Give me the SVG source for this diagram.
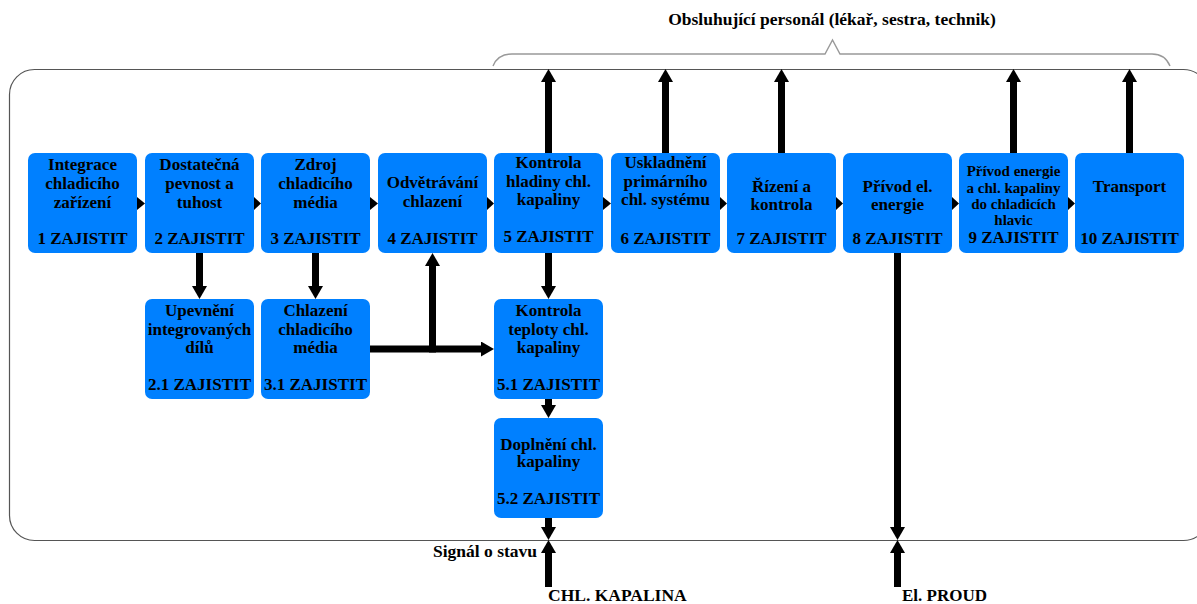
<svg xmlns="http://www.w3.org/2000/svg" width="1197" height="604" viewBox="0 0 1197 604">
<style>
.box{fill:#0080ff}
.t{font-family:"Liberation Serif","Times New Roman",serif;font-weight:bold;font-size:17px;fill:#000;text-anchor:middle}
.s{font-size:15px}
.lbl{font-family:"Liberation Serif","Times New Roman",serif;font-weight:bold;font-size:17.5px;fill:#000}
.big{font-size:17.5px}
.conn{stroke:#000;stroke-width:7;fill:none}
.tri{fill:#000}
</style>
<defs>
<marker id="ah" viewBox="0 -7.5 13 15" refX="0" refY="0" markerWidth="13" markerHeight="15" markerUnits="userSpaceOnUse" orient="auto">
<path d="M0,-7.5 L13,0 L0,7.5 z" fill="#000"/>
</marker>
</defs>
<rect x="9.5" y="69.5" width="1199" height="471" rx="25" ry="25" fill="none" stroke="#555" stroke-width="1.2"/>
<path d="M493,66 Q498,54 512,54 L825,54 L832.5,40 L840,54 L1152,54 Q1165,54 1170,66" fill="none" stroke="#999" stroke-width="1.4"/>
<text class="lbl" x="832" y="25" text-anchor="middle">Obsluhující personál (lékař, sestra, technik)</text>

<g id="connectors">
<path class="tri" d="M137,197 L145,203.5 L137,210 z"/>
<path class="tri" d="M254,197 L261,203.5 L254,210 z"/>
<path class="tri" d="M370,197 L378,203.5 L370,210 z"/>
<path class="tri" d="M487,197 L494,203.5 L487,210 z"/>
<path class="tri" d="M603,197 L611,203.5 L603,210 z"/>
<path class="tri" d="M720,197 L727,203.5 L720,210 z"/>
<path class="tri" d="M836,197 L843,203.5 L836,210 z"/>
<path class="tri" d="M952,197 L959,203.5 L952,210 z"/>
<path class="tri" d="M1068,197 L1075,203.5 L1068,210 z"/>
<path class="conn" d="M199.5,253 L199.5,286" marker-end="url(#ah)"/>
<path class="conn" d="M315.5,253 L315.5,286" marker-end="url(#ah)"/>
<path class="conn" d="M370,349 L481,349" marker-end="url(#ah)"/>
<path class="conn" d="M432.5,352.5 L432.5,266" marker-end="url(#ah)"/>
<path class="conn" d="M548.5,253 L548.5,286" marker-end="url(#ah)"/>
<path class="conn" d="M548.5,399 L548.5,405" marker-end="url(#ah)"/>
<path class="conn" d="M548.5,518 L548.5,527" marker-end="url(#ah)"/>
<path class="conn" d="M548.5,587 L548.5,553" marker-end="url(#ah)"/>
<path class="conn" d="M897.5,253 L897.5,527" marker-end="url(#ah)"/>
<path class="conn" d="M897.5,587 L897.5,553" marker-end="url(#ah)"/>
<path class="conn" d="M548.5,153 L548.5,82" marker-end="url(#ah)"/>
<path class="conn" d="M665.5,153 L665.5,82" marker-end="url(#ah)"/>
<path class="conn" d="M781.5,153 L781.5,82" marker-end="url(#ah)"/>
<path class="conn" d="M1013.5,153 L1013.5,82" marker-end="url(#ah)"/>
<path class="conn" d="M1129.5,153 L1129.5,82" marker-end="url(#ah)"/>
</g>

<g id="n1"><rect class="box" x="28" y="153" width="109" height="100" rx="7"/>
<text class="t" x="82.5" y="170">Integrace</text><text class="t" x="82.5" y="189">chladicího</text><text class="t" x="82.5" y="208">zařízení</text><text class="t" x="82.5" y="244">1 ZAJISTIT</text></g>
<g id="n2"><rect class="box" x="145" y="153" width="109" height="100" rx="7"/>
<text class="t" x="199.5" y="170">Dostatečná</text><text class="t" x="199.5" y="189">pevnost a</text><text class="t" x="199.5" y="208">tuhost</text><text class="t" x="199.5" y="244">2 ZAJISTIT</text></g>
<g id="n3"><rect class="box" x="261" y="153" width="109" height="100" rx="7"/>
<text class="t" x="315.5" y="170">Zdroj</text><text class="t" x="315.5" y="189">chladicího</text><text class="t" x="315.5" y="208">média</text><text class="t" x="315.5" y="244">3 ZAJISTIT</text></g>
<g id="n4"><rect class="box" x="378" y="153" width="109" height="100" rx="7"/>
<text class="t" x="432.5" y="188">Odvětrávání</text><text class="t" x="432.5" y="207">chlazení</text><text class="t" x="432.5" y="244">4 ZAJISTIT</text></g>
<g id="n5"><rect class="box" x="494" y="153" width="109" height="100" rx="7"/>
<text class="t" x="548.5" y="168">Kontrola</text><text class="t" x="548.5" y="187">hladiny chl.</text><text class="t" x="548.5" y="205">kapaliny</text><text class="t" x="548.5" y="242">5 ZAJISTIT</text></g>
<g id="n6"><rect class="box" x="611" y="153" width="109" height="100" rx="7"/>
<text class="t" x="665.5" y="168">Uskladnění</text><text class="t" x="665.5" y="187">primárního</text><text class="t" x="665.5" y="205">chl. systému</text><text class="t" x="665.5" y="244">6 ZAJISTIT</text></g>
<g id="n7"><rect class="box" x="727" y="153" width="109" height="100" rx="7"/>
<text class="t" x="781.5" y="192">Řízení a</text><text class="t" x="781.5" y="210">kontrola</text><text class="t" x="781.5" y="244">7 ZAJISTIT</text></g>
<g id="n8"><rect class="box" x="843" y="153" width="109" height="100" rx="7"/>
<text class="t" x="897.5" y="192">Přívod el.</text><text class="t" x="897.5" y="210">energie</text><text class="t" x="897.5" y="244">8 ZAJISTIT</text></g>
<g id="n9"><rect class="box" x="959" y="153" width="109" height="100" rx="7"/>
<text class="t s" x="1013.5" y="176">Přívod energie</text><text class="t s" x="1013.5" y="193">a chl. kapaliny</text><text class="t s" x="1013.5" y="209">do chladicích</text><text class="t s" x="1013.5" y="225">hlavic</text><text class="t" x="1013.5" y="243">9 ZAJISTIT</text></g>
<g id="n10"><rect class="box" x="1075" y="153" width="109" height="100" rx="7"/>
<text class="t" x="1129.5" y="192">Transport</text><text class="t" x="1129.5" y="244">10 ZAJISTIT</text></g>
<g id="n21"><rect class="box" x="145" y="299" width="109" height="100" rx="7"/>
<text class="t" x="199.5" y="316">Upevnění</text><text class="t" x="199.5" y="335">integrovaných</text><text class="t" x="199.5" y="353">dílů</text><text class="t" x="199.5" y="390">2.1 ZAJISTIT</text></g>
<g id="n31"><rect class="box" x="261" y="299" width="109" height="100" rx="7"/>
<text class="t" x="315.5" y="316">Chlazení</text><text class="t" x="315.5" y="335">chladicího</text><text class="t" x="315.5" y="353">média</text><text class="t" x="315.5" y="390">3.1 ZAJISTIT</text></g>
<g id="n51"><rect class="box" x="494" y="299" width="109" height="100" rx="7"/>
<text class="t" x="548.5" y="316">Kontrola</text><text class="t" x="548.5" y="335">teploty chl.</text><text class="t" x="548.5" y="353">kapaliny</text><text class="t" x="548.5" y="390">5.1 ZAJISTIT</text></g>
<g id="n52"><rect class="box" x="494" y="418" width="109" height="100" rx="7"/>
<text class="t" x="548.5" y="450">Doplnění chl.</text><text class="t" x="548.5" y="467">kapaliny</text><text class="t" x="548.5" y="504">5.2 ZAJISTIT</text></g>

<text class="lbl" x="537" y="557" text-anchor="end">Signál o stavu</text>
<text class="lbl big" x="548" y="601">CHL. KAPALINA</text>
<text class="lbl" x="902" y="601" style="font-size:17px">El. PROUD</text>
</svg>
